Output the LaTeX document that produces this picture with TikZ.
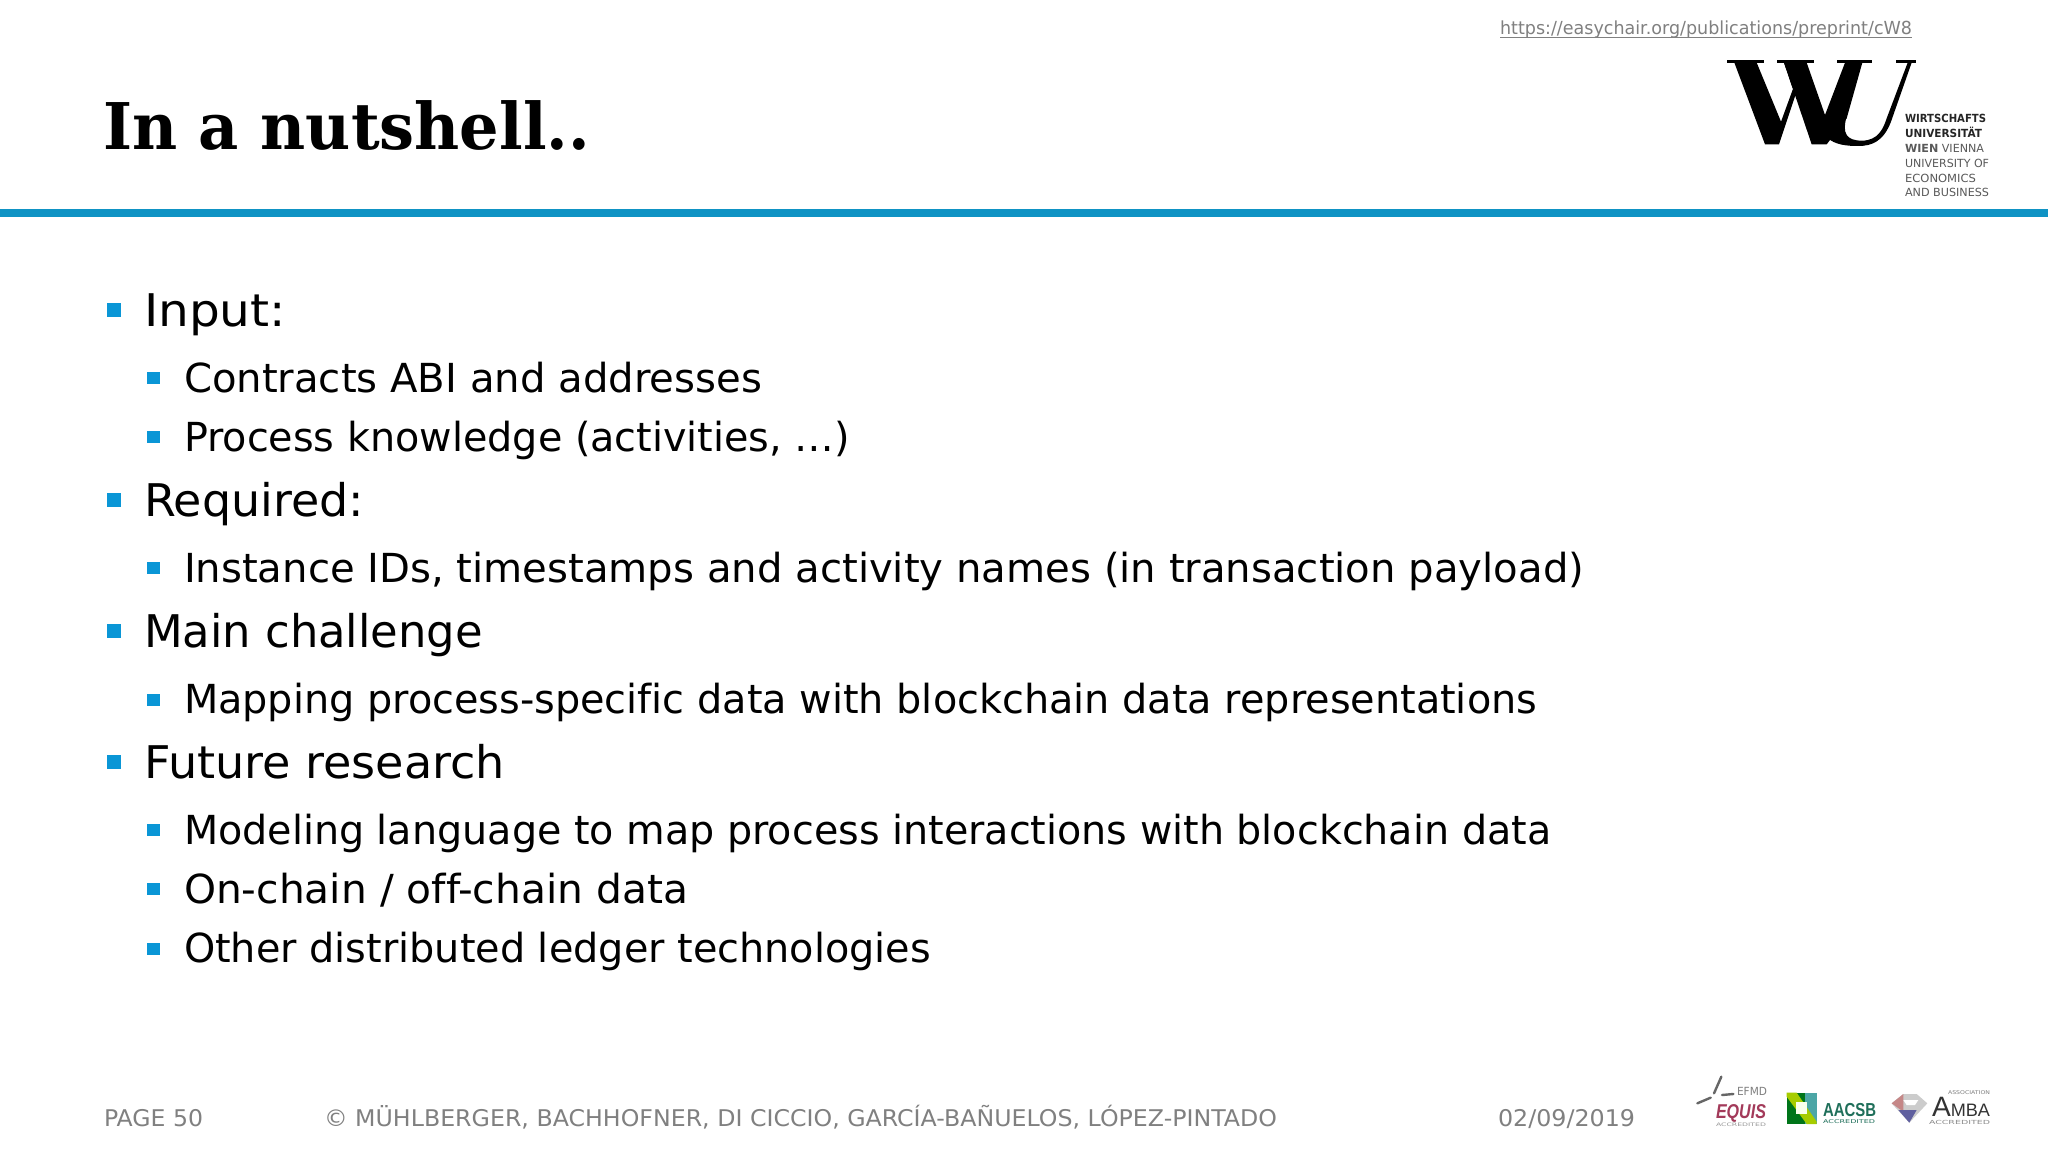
\documentclass[tikz,border=0pt]{standalone}
\usepackage{fontspec}
\usepackage{graphicx}
\setmainfont[Ligatures=NoCommon]{DejaVu Sans}
\newfontfamily\titlefont{DejaVu Serif}
\newfontfamily\arialfont{Liberation Sans}
\definecolor{wublue}{HTML}{0F93C4}
\definecolor{bulletblue}{HTML}{0A96D6}
\definecolor{footgray}{HTML}{808080}
\definecolor{equiscol}{HTML}{A33A5A}
\definecolor{aacsbcol}{HTML}{1F6F5A}
\newlength{\pxu}\setlength{\pxu}{0.5pt}
\newcommand{\fw}[2]{\resizebox{#1\pxu}{\height}{#2}}
\tikzset{
  txt/.style={anchor=base west,inner sep=0pt,outer sep=0pt,text=black},
  lvla/.style={txt,font=\fontsize{22.5}{27}\selectfont},
  lvlb/.style={txt,font=\fontsize{20}{24}\selectfont},
  foot/.style={txt,text=footgray,font=\fontsize{11.5}{14}\selectfont},
  logoline/.style={txt,text=black!65,font=\fontsize{5.6}{7}\selectfont},
  logobold/.style={txt,text=black!85,font=\bfseries\fontsize{5.6}{7}\selectfont},
  bulla/.style={fill=bulletblue,draw=none,inner sep=0pt,minimum width=7pt,minimum height=7pt,anchor=center},
  bullb/.style={fill=bulletblue,draw=none,inner sep=0pt,minimum width=6.4pt,minimum height=6.2pt,anchor=center},
}
\begin{document}
\begin{tikzpicture}[x=0.5pt,y=-0.5pt]
\useasboundingbox (0,0) rectangle (2048,1152);
\fill[white] (0,0) rectangle (2048,1152);

% header
\node[txt,text=footgray,font=\fontsize{9}{11}\selectfont] (url) at (1500,34) {\fw{412}{https://easychair.org/publications/preprint/cW8}};
\draw[footgray,line width=0.5pt] ([yshift=-1.6pt]url.base west) -- ([yshift=-1.6pt]url.base east);
\node[txt,font=\titlefont\bfseries\fontsize{32.2}{38}\selectfont] (title) at (103,149) {\fw{487}{In a nutshell..}};
\fill[wublue] (0,209) rectangle (2048,217);

% WU logo
\begin{scope}[shift={(1715,50)},scale=0.3333]
\fill (37,31) rectangle (147,38);
\fill (187,31) rectangle (297,38);
\fill (365,31) rectangle (472,38);
\fill (543,31) rectangle (603,38);
\fill (58,38) -- (125,38) -- (198,215) -- (240,100) -- (275,38) -- (207,38) -- (232,112) -- (243,130) -- (192,283) -- (150,283) -- cycle;
\fill (207,38) -- (275,38) -- (330,195) -- (390,38) -- (442,38) -- (395,205) -- (335,283) -- (290,283) -- cycle;
\fill (395,200) .. controls (380,250) and (395,272) .. (440,272) .. controls (490,272) and (505,235) .. (515,205) -- (578,38) -- (590,38) -- (528,215) .. controls (505,275) and (470,288) .. (430,288) .. controls (395,288) and (360,285) .. (335,262) -- cycle;
\end{scope}
\node[logobold] (l1) at (1905,122) {\fw{81}{WIRTSCHAFTS}};
\node[logobold] (l2) at (1905,137) {\fw{77}{UNIVERSITÄT}};
\node[logoline] (l3) at (1905,152) {\fw{79}{\textbf{WIEN} VIENNA}};
\node[logoline] (l4) at (1905,167) {\fw{84}{UNIVERSITY OF}};
\node[logoline] (l5) at (1905,182) {\fw{71}{ECONOMICS}};
\node[logoline] (l6) at (1905,196) {\fw{84}{AND BUSINESS}};

% body
\node[bulla] (ba1) at (114,310) {};
\node[lvla] (t1) at (144,326.5) {\fw{142}{Input:}};
\node[bullb] (bb1) at (153.5,378) {};
\node[lvlb] (t2) at (184,392) {\fw{578}{Contracts ABI and addresses}};
\node[bullb] (bb2) at (153.5,437) {};
\node[lvlb] (t3) at (184,451) {\fw{666}{Process knowledge (activities, …)}};
\node[bulla] (ba2) at (114,500) {};
\node[lvla] (t4) at (144,516.5) {\fw{220}{Required:}};
\node[bullb] (bb3) at (153.5,568) {};
\node[lvlb] (t5) at (184,582) {\fw{1400}{Instance IDs, timestamps and activity names (in transaction payload)}};
\node[bulla] (ba3) at (114,631) {};
\node[lvla] (t6) at (144,647.5) {\fw{339}{Main challenge}};
\node[bullb] (bb4) at (153.5,700) {};
\node[lvlb] (t7) at (184,713) {\fw{1353}{Mapping process-specific data with blockchain data representations}};
\node[bulla] (ba4) at (114,762) {};
\node[lvla] (t8) at (144,778.5) {\fw{361}{Future research}};
\node[bullb] (bb5) at (153.5,830) {};
\node[lvlb] (t9) at (184,844) {\fw{1367}{Modeling language to map process interactions with blockchain data}};
\node[bullb] (bb6) at (153.5,889) {};
\node[lvlb] (t10) at (184,903) {\fw{504}{On-chain / off-chain data}};
\node[bullb] (bb7) at (153.5,949) {};
\node[lvlb] (t11) at (184,962) {\fw{747}{Other distributed ledger technologies}};

% footer
\node[foot] (f1) at (104,1126) {\fw{99}{PAGE 50}};
\node[foot] (f2) at (324,1126) {\fw{953}{© MÜHLBERGER, BACHHOFNER, DI CICCIO, GARCÍA-BAÑUELOS, LÓPEZ-PINTADO}};
\node[foot] (f3) at (1498,1126) {\fw{137}{02/09/2019}};

% accreditation logos
\begin{scope}[shift={(1650,1050)},scale=0.3333]
\draw[black!60,line width=1.2pt,line cap=round] (142,160) -- (182,143);
\draw[black!60,line width=1.2pt,line cap=round] (192,130) -- (214,80);
\draw[black!60,line width=1.2pt,line cap=round] (216,135) -- (250,132);
% AACSB square
\fill[green!45!black!80!teal] (410,128) rectangle (500,222);
\fill[teal!70!white] (465,128) -- (500,128) -- (500,222) -- (465,222) -- cycle;
\fill[lime!60!olive] (410,128) -- (440,128) -- (500,215) -- (500,222) -- (470,222) -- (410,140) -- cycle;
\fill[white!92!lime] (438,155) rectangle (470,192);
% AMBA diamond
\fill[black!20] (725,160) -- (760,132) -- (800,132) -- (832,160) -- (778,218) -- cycle;
\fill[red!35!gray!70] (725,160) -- (760,132) -- (760,185) -- cycle;
\fill[blue!25!gray] (745,180) -- (800,180) -- (778,218) -- cycle;
\fill[white] (760,150) -- (805,150) -- (795,165) -- (770,165) -- cycle;
\end{scope}
\node[txt,text=black!50,font=\fontsize{5.6}{7}\selectfont] (efmd) at (1737,1095) {\fw{30}{EFMD}};
\node[txt,text=equiscol,font=\arialfont\bfseries\itshape\fontsize{10}{12}\selectfont] (equis) at (1716,1118) {\fw{50}{EQUIS}};
\node[txt,text=black!40,font=\fontsize{2.4}{3}\selectfont] (equisb) at (1716,1126) {\fw{50}{ACCREDITED}};
\node[txt,text=aacsbcol,font=\arialfont\bfseries\fontsize{9.4}{12}\selectfont] (aacsb) at (1823,1116) {\fw{53}{AACSB}};
\node[txt,text=aacsbcol,font=\fontsize{2.6}{3}\selectfont] (aacsbb) at (1823,1123) {\fw{52}{ACCREDITED}};
\node[txt,text=black!80,font=\arialfont] (amba) at (1932,1116) {\fw{58}{\fontsize{14}{14}\selectfont A\fontsize{9}{9}\selectfont MBA}};
\node[txt,text=black!50,font=\fontsize{2.6}{3}\selectfont] (ambat) at (1948,1094) {\fw{42}{ASSOCIATION}};
\node[txt,text=black!45,font=\fontsize{2.8}{3}\selectfont] (ambab) at (1929,1124) {\fw{61}{ACCREDITED}};
\end{tikzpicture}
\end{document}
